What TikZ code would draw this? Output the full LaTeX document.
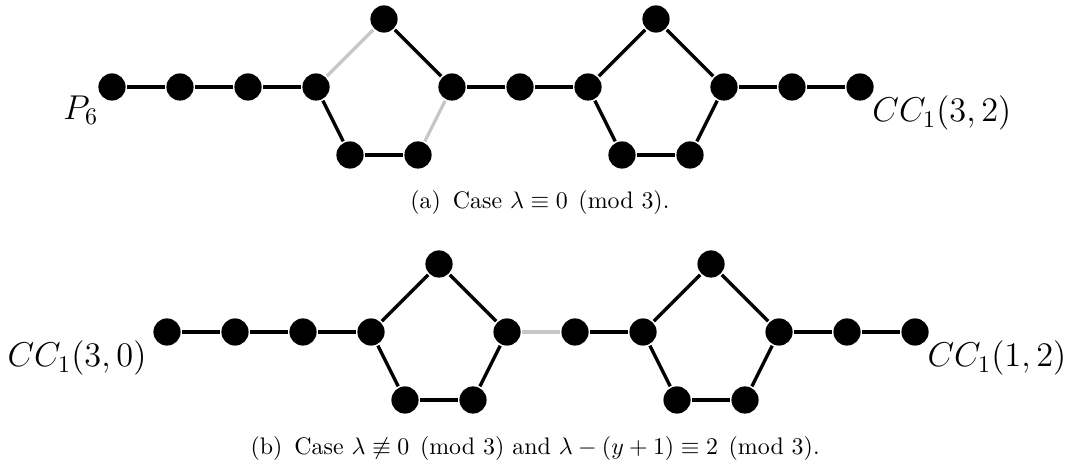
\documentclass[tikz,border=0pt]{standalone}
\usepackage{amsmath, amssymb}
\usetikzlibrary{positioning}

\begin{document}
\begin{tikzpicture}[line width=1.4pt, node distance=1cm,
		vtx/.style={on grid, circle, fill=black, inner sep=0pt, minimum size=0.4cm},
		lbl/.style={inner sep=0pt, font=\Large},
		faded/.style={draw=black!22}]
	\useasboundingbox (0,0) rectangle (15.735,-6.853);

	% (a)
	\node[vtx] (a1) at (1.647,-1.279) {};
	\node[vtx] (a2) [right=of a1] {};
	\node[vtx] (a3) [right=of a2] {};
	\node[vtx] (a4) [right=of a3] {};
	\node[vtx] (a5) [above right=1cm and 1cm of a4] {};
	\node[vtx] (a6) [right=2cm of a4] {};
	\node[vtx] (a7) [below right=1cm and 0.5cm of a4] {};
	\node[vtx] (a8) [right=of a7] {};
	\node[vtx] (a9) [right=of a6] {};
	\node[vtx] (a10) [right=of a9] {};
	\node[vtx] (a11) [above right=1cm and 1cm of a10] {};
	\node[vtx] (a12) [right=2cm of a10] {};
	\node[vtx] (a13) [below right=1cm and 0.5cm of a10] {};
	\node[vtx] (a14) [right=of a13] {};
	\node[vtx] (a15) [right=of a12] {};
	\node[vtx] (a16) [right=of a15] {};
	\node[lbl, below left=-0.05cm and 0.02cm of a1] (la) {$P_6$};
	\node[lbl, below right=-0.05cm and 0cm of a16] (ra) {$CC_1(3,2)$};

	\path
	(a1) edge (a2)
	(a2) edge (a3)
	(a3) edge (a4)
	(a4) edge[faded] (a5)
	(a5) edge (a6)
	(a4) edge (a7)
	(a7) edge (a8)
	(a8) edge[faded] (a6)
	(a6) edge (a9)
	(a9) edge (a10)
	(a10) edge (a11)
	(a11) edge (a12)
	(a10) edge (a13)
	(a13) edge (a14)
	(a14) edge (a12)
	(a12) edge (a15)
	(a15) edge (a16);

	\node (capa) at (7.94,-2.985) {(a)\enspace Case $\lambda \equiv 0 \pmod 3$.};

	% (b)
	\node[vtx] (b1) at (2.456,-4.882) {};
	\node[vtx] (b2) [right=of b1] {};
	\node[vtx] (b3) [right=of b2] {};
	\node[vtx] (b4) [right=of b3] {};
	\node[vtx] (b5) [above right=1cm and 1cm of b4] {};
	\node[vtx] (b6) [right=2cm of b4] {};
	\node[vtx] (b7) [below right=1cm and 0.5cm of b4] {};
	\node[vtx] (b8) [right=of b7] {};
	\node[vtx] (b9) [right=of b6] {};
	\node[vtx] (b10) [right=of b9] {};
	\node[vtx] (b11) [above right=1cm and 1cm of b10] {};
	\node[vtx] (b12) [right=2cm of b10] {};
	\node[vtx] (b13) [below right=1cm and 0.5cm of b10] {};
	\node[vtx] (b14) [right=of b13] {};
	\node[vtx] (b15) [right=of b12] {};
	\node[vtx] (b16) [right=of b15] {};
	\node[lbl, below left=-0.05cm and 0.12cm of b1] (lb) {$CC_1(3,0)$};
	\node[lbl, below right=-0.05cm and 0cm of b16] (rb) {$CC_1(1,2)$};

	\path
	(b1) edge (b2)
	(b2) edge (b3)
	(b3) edge (b4)
	(b4) edge (b5)
	(b5) edge (b6)
	(b4) edge (b7)
	(b7) edge (b8)
	(b8) edge (b6)
	(b6) edge[faded] (b9)
	(b9) edge (b10)
	(b10) edge (b11)
	(b11) edge (b12)
	(b10) edge (b13)
	(b13) edge (b14)
	(b14) edge (b12)
	(b12) edge (b15)
	(b15) edge (b16);

	\node (capb) at (7.87,-6.59) {(b)\enspace Case $\lambda \not\equiv 0 \pmod 3$ and $\lambda - (y+1) \equiv 2 \pmod 3$.};
\end{tikzpicture}
\end{document}
